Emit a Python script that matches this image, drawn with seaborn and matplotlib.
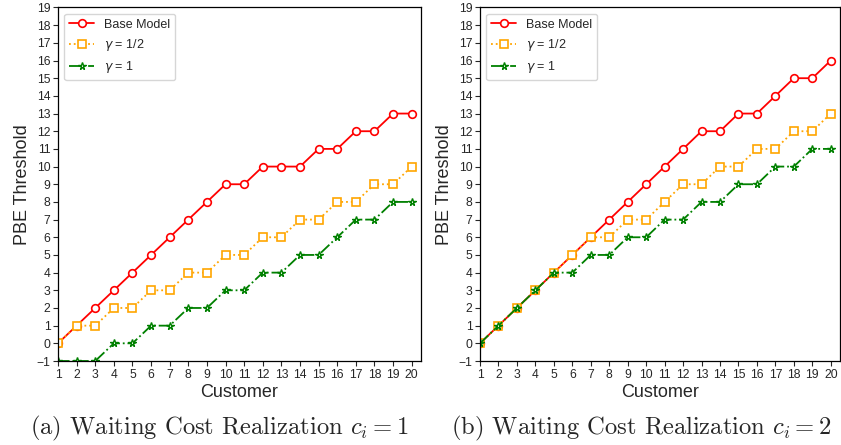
import matplotlib
matplotlib.use("Agg")
import matplotlib.pyplot as plt
import seaborn as sns
import pandas as pd

customers = list(range(1, 21))

# Panel (a): c_i = 1
base_a = [0, 1, 2, 3, 4, 5, 6, 7, 8, 9, 9, 10, 10, 10, 11, 11, 12, 12, 13, 13]
half_a = [0, 1, 1, 2, 2, 3, 3, 4, 4, 5, 5, 6, 6, 7, 7, 8, 8, 9, 9, 10]
one_a = [-1, -1, -1, 0, 0, 1, 1, 2, 2, 3, 3, 4, 4, 5, 5, 6, 7, 7, 8, 8]

# Panel (b): c_i = 2
base_b = [0, 1, 2, 3, 4, 5, 6, 7, 8, 9, 10, 11, 12, 12, 13, 13, 14, 15, 15, 16]
half_b = [0, 1, 2, 3, 4, 5, 6, 6, 7, 7, 8, 9, 9, 10, 10, 11, 11, 12, 12, 13]
one_b = [0, 1, 2, 3, 4, 4, 5, 5, 6, 6, 7, 7, 8, 8, 9, 9, 10, 10, 11, 11]

labels = ["Base Model", r"$\gamma$ = 1/2", r"$\gamma$ = 1"]
captions = [r"(a) Waiting Cost Realization $c_i = 1$",
            r"(b) Waiting Cost Realization $c_i = 2$"]
yticks = list(range(-1, 20))

sns.set_theme(style="ticks")
plt.rcParams["font.family"] = ["Liberation Sans", "DejaVu Sans"]
plt.rcParams["mathtext.fontset"] = "dejavusans"

W, H = 841, 445
fig = plt.figure(figsize=(W / 100, H / 100), dpi=100)

styles = [
    dict(color="red", linestyle="-", marker="o", markersize=5.5, markerfacecolor="white",
         markeredgecolor="red", markeredgewidth=1.2, linewidth=1.3),
    dict(color="orange", linestyle=":", marker="s", markersize=5.5, markerfacecolor="white",
         markeredgecolor="orange", markeredgewidth=1.2, linewidth=1.3),
    dict(color="green", linestyle="-.", marker="*", markersize=5.5, markerfacecolor="white",
         markeredgecolor="green", markeredgewidth=1.0, linewidth=1.3),
]

panels = [(base_a, half_a, one_a), (base_b, half_b, one_b)]
lefts = [58, 480]
right_edges = [421, 840]
top, bottom = 7.5, 361

for i, series in enumerate(panels):
    ax = fig.add_axes([lefts[i] / W, (H - bottom) / H,
                       (right_edges[i] - lefts[i]) / W, (bottom - top) / H])
    for vals, lab, st in zip(series, labels, styles):
        df = pd.DataFrame({"Customer": customers, "v": vals})
        sns.lineplot(data=df, x="Customer", y="v", ax=ax, label=lab, **st)
    ax.set_xlim(1, 20.5)
    ax.set_ylim(-1, 19)
    ax.set_xticks(customers)
    ax.set_yticks(yticks)
    ax.tick_params(labelsize=8.7, length=3.5, width=0.8, pad=2)
    ax.set_xlabel("Customer", fontsize=13, labelpad=2.5)
    ax.set_ylabel("PBE Threshold", fontsize=13, labelpad=4)
    for s in ax.spines.values():
        s.set_linewidth(0.9)
        s.set_color("black")
    ax.legend(loc="upper left", fontsize=9, frameon=True)
    cx = [219, 641][i]
    fig.text(cx / W, 17 / H, captions[i], ha="center", va="center",
             fontsize=17.7, fontfamily="cmr10", math_fontfamily="cm")

fig.savefig("out.png", dpi=100)
